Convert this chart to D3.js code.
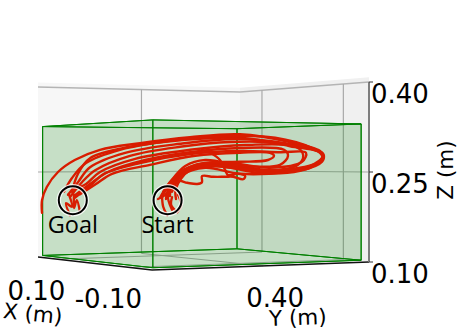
<!DOCTYPE html>
<head>
  <meta charset="utf-8">
  <script src="https://d3js.org/d3.v7.min.js"></script>
  <style>
body { margin: 0; background: #fff; }
text { font-family: "DejaVu Sans", sans-serif; fill: #000; }
.mark { font-family: "Open Sans", sans-serif; font-size: 23.5px; text-anchor: middle; }
  </style>
</head>

<body>
  <script>
    // tick values, axis names
    const xTicks = [0.10, -0.10];
    const yTicks = [0.40];
    const zTicks = [0.40, 0.25, 0.10];
    const axisNames = ["X (m)", "Y (m)", "Z (m)"];

    // limits of the 3d frame and of the green workspace box
    const xLim = [0.154, -0.163];
    const yLim = [0.19, 0.60];
    const zLim = [0.10, 0.40];
    const boxX = [0.148, -0.158];
    const boxY = [0.195, 0.589];
    const boxZ = [0.103, 0.33];

    // markers [along view, Z]
    const markNames = ["Goal", "Start"];
    const markPos = [[-0.018, 0.203], [0.219, 0.203]];

    // trajectories as seen from this view, [along view, Z]
    const trajA = [[-.023,.21],[.005,.233],[.038,.253],[.125,.277],[.25,.292],[.375,.30],[.5,.298],[.6,.282],[.605,.27],[.55,.257],[.45,.253],[.35,.262],[.275,.257],[.23,.228],[.225,.21]];
    const trajB = [[-.03,.212],[-.005,.233],[.025,.258],[.113,.282],[.25,.297],[.388,.305],[.513,.298],[.588,.287],[.608,.277],[.575,.26],[.475,.25],[.363,.26],[.275,.253],[.24,.223],[.24,.205]];
    const trajC = [[-.013,.207],[.03,.23],[.06,.247],[.15,.265],[.275,.28],[.4,.285],[.5,.283],[.565,.282],[.555,.267],[.475,.257],[.375,.265],[.288,.262],[.23,.237],[.2,.207]];
    const trajD = [[-.04,.217],[-.02,.24],[.015,.265],[.1,.287],[.225,.302],[.363,.31],[.488,.307],[.58,.29],[.608,.278],[.605,.267],[.55,.252],[.455,.248],[.338,.26],[.263,.25],[.22,.22],[.215,.205]];
    const trajE = [[0,.213],[.04,.23],[.08,.247],[.175,.262],[.288,.277],[.4,.282],[.475,.282],[.485,.277],[.47,.27],[.4,.267],[.313,.265],[.25,.25],[.22,.223]];
    const trajF = [[-.015,.21],[.025,.23],[.07,.25],[.163,.27],[.275,.283],[.4,.29],[.51,.287],[.52,.277],[.5,.262],[.413,.26],[.325,.265],[.26,.25],[.23,.217]];
    const trajG = [[-.02,.22],[.015,.23],[.05,.25],[.138,.272],[.275,.287],[.413,.295],[.54,.292],[.558,.278],[.545,.262],[.47,.252],[.38,.257],[.295,.26],[.24,.24],[.205,.21]];
    const trajH = [[-.095,.182],[-.095,.203],[-.083,.225],[-.055,.25],[-.013,.27],[.05,.287],[.15,.298],[.275,.308],[.4,.313],[.525,.30],[.6,.285],[.61,.275],[.59,.262],[.513,.25],[.4,.247],[.313,.257],[.255,.245],[.213,.212],[.195,.205]];
    const trajI = [[-.02,.217],[-.005,.247],[.025,.273],[.125,.292],[.25,.303],[.4,.307],[.525,.293],[.608,.28],[.575,.257],[.475,.253],[.4,.26],[.313,.27],[.263,.26],[.225,.233],[.208,.217]];
    const trajLow = [[.23,.187],[.22,.212],[.245,.235],[.268,.232],[.293,.23],[.305,.233],[.305,.243],[.333,.242],[.363,.242],[.383,.242],[.408,.238],[.413,.243],[.395,.247],[.37,.245],[.363,.253],[.35,.27],[.325,.282],[.305,.287]];
    const goalA = [[-.025,.178],[-.035,.198],[-.02,.192],[-.028,.213]];
    const goalB = [[0,.183],[-.008,.203],[-.015,.19],[-.015,.212]];
    const startA = [[.205,.212],[.208,.192],[.218,.178]];
    const startB = [[.23,.208],[.228,.195],[.24,.185]];
    const startC = [[.245,.212],[.253,.195],[.243,.183]];
    const trajectories = [trajH, trajI, trajD, trajB, trajA, trajG, trajF, trajC, trajE, trajLow, goalA, goalB, startA, startB, startC];

    var svg = d3.select("body").append("svg")
      .attr("width", 459)
      .attr("height", 331);

    // where the frame corners land on the page, used by project()
    // [x, y at z bottom, y at z top], index by [u][v]: u along X, v along Y
    const corners = [
      [[38, 257, 87], [240, 250, 92]],
      [[152, 270, 74], [369, 262, 82]]
    ];
    var uScale = d3.scaleLinear().domain(xLim).range([0, 1]);
    var vScale = d3.scaleLinear().domain(yLim).range([0, 1]);
    var wScale = d3.scaleLinear().domain(zLim).range([0, 1]);

    function project(x, y, z) {
      var u = uScale(x), v = vScale(y), w = wScale(z);
      var mix = i => (1-u)*(1-v)*corners[0][0][i] + (1-u)*v*corners[0][1][i] + u*(1-v)*corners[1][0][i] + u*v*corners[1][1][i];
      return [mix(0), mix(1) + (mix(2) - mix(1)) * w];
    }

    var line = d3.line();
    function poly(pts, fill, stroke, sw, op) {
      svg.append("path")
        .attr("d", line(pts) + "Z")
        .attr("fill", fill)
        .attr("fill-opacity", op === undefined ? 1 : op)
        .attr("stroke", stroke)
        .attr("stroke-width", sw);
    }
    function seg(a, b, stroke, sw) {
      svg.append("path").attr("d", line([a, b])).attr("fill", "none").attr("stroke", stroke).attr("stroke-width", sw);
    }

    // panes
    const zPane = 0.408;
    poly([project(xLim[0], yLim[0], zLim[0]), project(xLim[0], yLim[1], zLim[0]), project(xLim[0], yLim[1], zPane), project(xLim[0], yLim[0], zPane)], "#f7f7f7", "none", 0);
    poly([project(xLim[0], yLim[1], zLim[0]), project(xLim[1], yLim[1], zLim[0]), project(xLim[1], yLim[1], zPane), project(xLim[0], yLim[1], zPane)], "#f0f0f0", "none", 0);
    poly([project(xLim[0], yLim[0], zLim[0]), project(xLim[0], yLim[1], zLim[0]), project(xLim[1], yLim[1], zLim[0]), project(xLim[1], yLim[0], zLim[0])], "#f6f6f6", "none", 0);

    // grid
    const gridCol = "#a9a9a9";
    seg(project(xLim[0], yLim[0], zLim[1]), project(xLim[0], yLim[1], zLim[1]), "#b4b4b4", 1.5);
    seg(project(xLim[0], yLim[1], zLim[1]), project(xLim[1], yLim[1], zLim[1]), "#b4b4b4", 1.5);
    xTicks.forEach(t => {
      seg(project(t, yLim[1], zLim[0]), project(t, yLim[1], zLim[1]), gridCol, 1.2);
      seg(project(t, yLim[1], zLim[0]), project(t, yLim[0], zLim[0]), gridCol, 1);
    });
    yTicks.forEach(t => {
      seg(project(xLim[0], t, zLim[0]), project(xLim[0], t, zLim[1]), gridCol, 1.2);
      seg(project(xLim[0], t, zLim[0]), project(xLim[1], t, zLim[0]), gridCol, 1);
    });
    seg(project(xLim[0], yLim[0], 0.25), project(xLim[0], yLim[1], 0.25), gridCol, 1.2);
    seg(project(xLim[0], yLim[1], 0.25), project(xLim[1], yLim[1], 0.25), gridCol, 1.2);

    // frame edges
    seg(project(xLim[0], yLim[0], zLim[0]), project(xLim[1], yLim[0], zLim[0]), "#111", 1.5);
    seg(project(xLim[1], yLim[0], zLim[0]), project(xLim[1], yLim[1], zLim[0]), "#111", 1.5);
    seg(project(xLim[1], yLim[1], zLim[0]), project(xLim[1], yLim[1], zLim[1]), "#7d7d7d", 2);
    zTicks.forEach(t => {
      var p = project(xLim[1], yLim[1], t);
      seg(p, [p[0] + 4, p[1]], "#333", 1);
    });

    // green box, back faces first
    const boxGreen = "#008000";
    var c = (i, j, k) => project(boxX[i], boxY[j], boxZ[k]);
    const faces = [
      [c(0,0,0), c(0,1,0), c(1,1,0), c(1,0,0)],
      [c(0,0,0), c(0,1,0), c(0,1,1), c(0,0,1)],
      [c(0,1,0), c(1,1,0), c(1,1,1), c(0,1,1)],
      [c(0,0,0), c(1,0,0), c(1,0,1), c(0,0,1)],
      [c(1,0,0), c(1,1,0), c(1,1,1), c(1,0,1)],
      [c(0,0,1), c(0,1,1), c(1,1,1), c(1,0,1)]
    ];
    faces.forEach(f => poly(f, boxGreen, boxGreen, 1, 0.1));

    // trajectories
    var hScale = d3.scaleLinear().domain([-0.1, 0.6]).range([40, 320]);
    var vPage = d3.scaleLinear().domain(zLim).range([262, 82]);
    var curve = d3.line()
      .x(d => hScale(d[0]))
      .y(d => vPage(d[1]))
      .curve(d3.curveCatmullRom.alpha(0.5));
    svg.append("g").selectAll("path")
      .data(trajectories)
      .enter().append("path")
      .attr("d", curve)
      .attr("fill", "none")
      .attr("stroke", "#d81c00")
      .attr("stroke-width", 2.4)
      .attr("stroke-linecap", "round");

    // goal and start markers
    svg.append("g").selectAll("circle")
      .data(markPos)
      .enter().append("circle")
      .attr("cx", d => hScale(d[0]))
      .attr("cy", d => vPage(d[1]))
      .attr("r", 14)
      .attr("fill", "none")
      .attr("stroke", "#fff")
      .attr("stroke-width", 4.5)
      .attr("stroke-opacity", 0.8);
    svg.append("g").selectAll("circle")
      .data(markPos)
      .enter().append("circle")
      .attr("cx", d => hScale(d[0]))
      .attr("cy", d => vPage(d[1]))
      .attr("r", 14)
      .attr("fill", "none")
      .attr("stroke", "#000")
      .attr("stroke-width", 2);
    svg.append("g").selectAll("text")
      .data(markNames)
      .enter().append("text")
      .attr("class", "mark")
      .attr("x", (d, i) => hScale(markPos[i][0]))
      .attr("y", (d, i) => vPage(markPos[i][1]) + 33)
      .text(d => d);

    // tick labels
    const tickSize = 26;
    zTicks.forEach(t => {
      var p = project(xLim[1], yLim[1], t);
      svg.append("text").attr("x", p[0] + 2).attr("y", p[1] + 21).attr("font-size", tickSize).text(t.toFixed(2));
    });
    xTicks.forEach(t => {
      var p = project(t, yLim[0], zLim[0]);
      svg.append("text").attr("x", p[0] - 21).attr("y", p[1] + 41).attr("font-size", tickSize).attr("text-anchor", "middle").text(t.toFixed(2));
    });
    yTicks.forEach(t => {
      var p = project(xLim[1], t, zLim[0]);
      svg.append("text").attr("x", p[0] + 12).attr("y", p[1] + 41).attr("font-size", tickSize).attr("text-anchor", "middle").text(t.toFixed(2));
    });

    // axis names
    svg.append("text").attr("font-size", 21.5).attr("text-anchor", "middle")
      .attr("transform", "translate(32,321) rotate(6)").text(axisNames[0]);
    svg.append("text").attr("font-size", 21.5).attr("text-anchor", "middle")
      .attr("transform", "translate(298,325) rotate(-2)").text(axisNames[1]);
    svg.append("text").attr("font-size", 21.5).attr("text-anchor", "middle")
      .attr("transform", "translate(453,170) rotate(-90)").text(axisNames[2]);
  </script>
</body>
